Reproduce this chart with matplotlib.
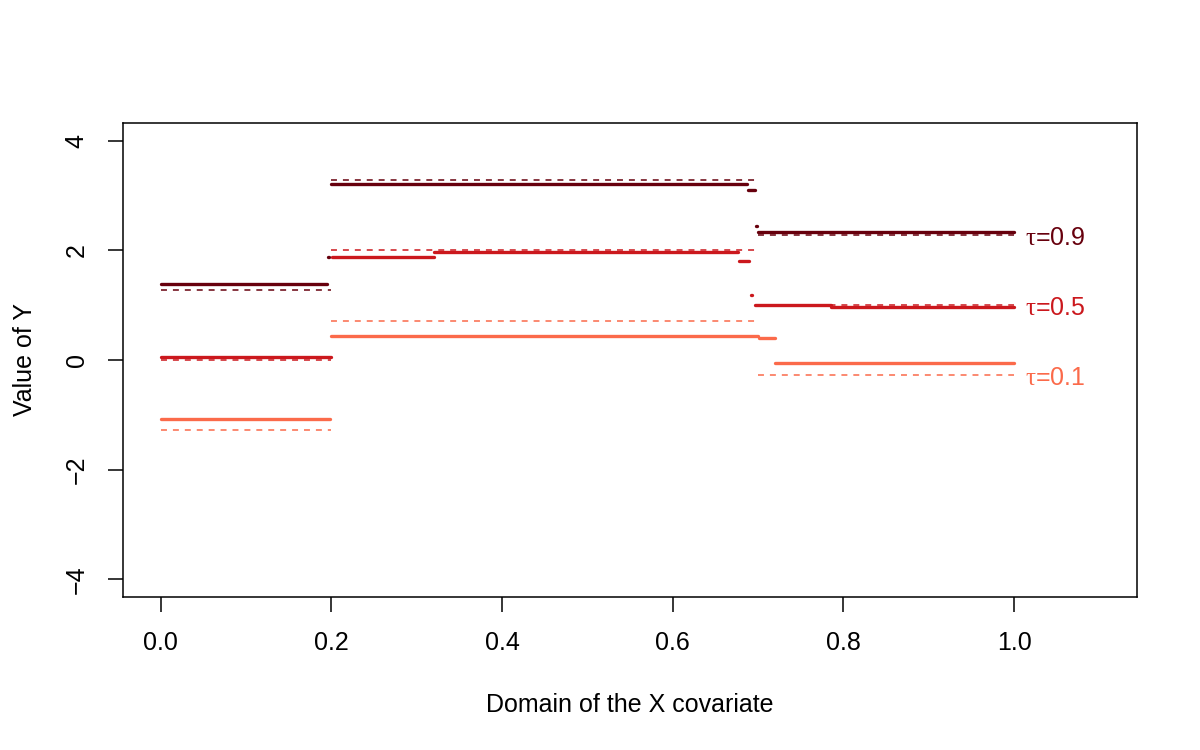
import matplotlib
matplotlib.use("Agg")
import matplotlib.pyplot as plt

plt.rcParams['font.family'] = ['Liberation Sans', 'DejaVu Sans']
plt.rcParams['mathtext.fontset'] = 'custom'
plt.rcParams['mathtext.rm'] = 'Liberation Serif'

# quantile levels and colours
taus = [0.9, 0.5, 0.1]
colors = ['#67000D', '#CB181D', '#FB6A4A']
labels = [r'$\mathrm{\tau}$=0.9', r'$\mathrm{\tau}$=0.5', r'$\mathrm{\tau}$=0.1']

# true quantile function: piecewise constant on these pieces
true_breaks = [0.0, 0.2, 0.7, 1.0]
true_q09 = [1.28, 3.28, 2.28]
true_q05 = [0.0, 2.0, 1.0]
true_q01 = [-1.28, 0.72, -0.28]

# estimated step functions: (start, end, value)
est_q09 = [(0.0, 0.195, 1.38), (0.196, 0.197, 1.87), (0.2, 0.687, 3.20),
           (0.688, 0.697, 3.09), (0.698, 0.699, 2.44), (0.700, 1.0, 2.34)]
est_q05 = [(0.0, 0.2, 0.06), (0.201, 0.32, 1.87), (0.32, 0.677, 1.96),
           (0.678, 0.690, 1.81), (0.692, 0.693, 1.19), (0.697, 0.786, 1.00),
           (0.786, 1.0, 0.97)]
est_q01 = [(0.0, 0.198, -1.08), (0.2, 0.70, 0.43), (0.701, 0.72, 0.40),
           (0.72, 1.0, -0.05)]

fig = plt.figure(figsize=(12, 7.5), dpi=100)
ax = fig.add_axes([0.1025, 0.204, 0.845, 0.632])

for est, truth, col, lab in zip([est_q09, est_q05, est_q01],
                                [true_q09, true_q05, true_q01], colors, labels):
    for x0, x1, y in est:
        ax.plot([x0, x1], [y, y], color=col, lw=2.4, solid_capstyle='round')
    for i, y in enumerate(truth):
        ax.plot([true_breaks[i], true_breaks[i + 1]], [y, y], color=col, lw=1.1,
                linestyle=(0, (3.9, 3.9)))
    ax.annotate(lab, xy=(1.0, truth[-1]), xytext=(8, -2), textcoords='offset points',
                ha='left', va='center', color=col, fontsize=18)

ax.set_xlim(-0.044, 1.144)
ax.set_ylim(-4.32, 4.32)
ax.set_xticks([0.0, 0.2, 0.4, 0.6, 0.8, 1.0])
ax.set_xticklabels(['0.0', '0.2', '0.4', '0.6', '0.8', '1.0'])
ax.set_yticks([-4, -2, 0, 2, 4])
ax.set_yticklabels(['\u22124', '\u22122', '0', '2', '4'], rotation=90, va='center')
ax.tick_params(direction='out', length=10.8, width=1.1, labelsize=18, pad=14)
ax.tick_params(axis='y', pad=14)
for sp in ax.spines.values():
    sp.set_linewidth(1.1)

ax.set_xlabel('Domain of the X covariate', fontsize=18, labelpad=27)
ax.set_ylabel('Value of Y', fontsize=18, labelpad=20)

fig.savefig('out.png', dpi=100)
